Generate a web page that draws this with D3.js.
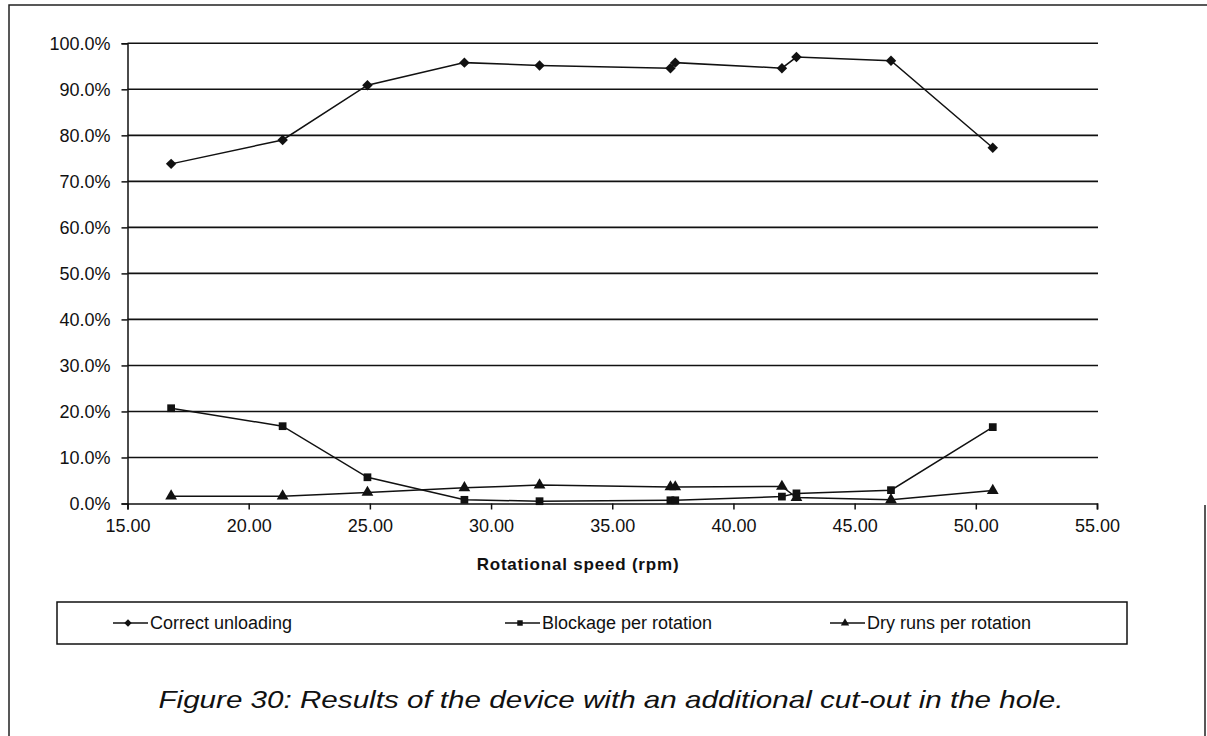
<!DOCTYPE html>
<html>
<head>
<meta charset="utf-8">
<script src="https://cdn.jsdelivr.net/npm/d3@7"></script>
<style>
body { margin: 0; background: #fff; }
svg { display: block; font-family: "Liberation Sans", Arial, sans-serif; }
</style>
</head>
<body>
<svg></svg>
<script>
// 1. data
var speed = [16.8, 21.4, 24.9, 28.9, 32.0, 37.4, 37.6, 42.0, 42.6, 46.5, 50.7];
var correctUnloading = [0.738, 0.790, 0.909, 0.958, 0.952, 0.946, 0.958, 0.946, 0.970, 0.962, 0.773];
var blockage = [0.207, 0.168, 0.057, 0.008, 0.005, 0.007, 0.007, 0.015, 0.022, 0.029, 0.166];
var dryRuns = [0.016, 0.016, 0.024, 0.034, 0.040, 0.036, 0.036, 0.037, 0.013, 0.008, 0.028];
var xTicks = [15, 20, 25, 30, 35, 40, 45, 50, 55];
var yTicks = [0, 0.1, 0.2, 0.3, 0.4, 0.5, 0.6, 0.7, 0.8, 0.9, 1.0];
var seriesNames = ["Correct unloading", "Blockage per rotation", "Dry runs per rotation"];

var svgWidth = 1207, svgHeight = 736;
var svg = d3.select('svg')
.attr('width', svgWidth)
.attr('height', svgHeight);

// 2. scales
var x = d3.scaleLinear().domain([15, 55]).range([127.5, 1097]);
var y = d3.scaleLinear().domain([0, 1]).range([503.5, 43.3]);

// page frame (scan border)
svg.append("path")
.attr("d", "M9,736 L9,5 L1207,5 M1205,505 L1205,736")
.attr("fill", "none")
.attr("stroke", "#222")
.attr("stroke-width", 1.5);

// 3. gridlines + y axis
var yAxis = d3.axisLeft(y)
.tickValues(yTicks)
.tickSize(6)
.tickPadding(11)
.tickFormat(d3.format(".1%"));

var gy = svg.append("g")
.attr("transform", "translate(" + x(15) + ",0)")
.call(yAxis);
gy.select(".domain").attr("stroke", "#111").attr("stroke-width", 1.5);
gy.selectAll(".tick line").attr("stroke", "#111").attr("stroke-width", 1.5);
gy.selectAll(".tick text")
.attr("font-size", "18px")
.attr("fill", "#111")
.attr("font-family", "Liberation Sans, Arial, sans-serif");

svg.append("g").selectAll("line")
.data(yTicks.slice(1))
.enter()
.append("line")
.attr("x1", x(15))
.attr("x2", x(55) + 1)
.attr("y1", function (d) { return y(d); })
.attr("y2", function (d) { return y(d); })
.attr("stroke", "#111")
.attr("stroke-width", 1.6);

// 4. x axis
var xAxis = d3.axisBottom(x)
.tickValues(xTicks)
.tickSize(6)
.tickPadding(10)
.tickFormat(d3.format(".2f"));

var gx = svg.append("g")
.attr("transform", "translate(0," + y(0) + ")")
.call(xAxis);
gx.select(".domain").attr("stroke", "#111").attr("stroke-width", 1.6);
gx.selectAll(".tick line").attr("stroke", "#111").attr("stroke-width", 1.5);
gx.selectAll(".tick text")
.attr("font-size", "18px")
.attr("fill", "#111")
.attr("font-family", "Liberation Sans, Arial, sans-serif");

svg.append("text")
.attr("x", 578)
.attr("y", 570)
.attr("text-anchor", "middle")
.attr("font-size", "17px")
.attr("font-weight", "bold")
.attr("letter-spacing", "0.8px")
.attr("fill", "#111")
.text("Rotational speed (rpm)");

// 5. series lines and markers
var diamond = {
    draw: function (ctx, size) {
        var r = Math.sqrt(size) / 2;
        ctx.moveTo(0, -r); ctx.lineTo(r, 0); ctx.lineTo(0, r); ctx.lineTo(-r, 0); ctx.closePath();
    }
};
var symbols = [diamond, d3.symbolSquare, d3.symbolTriangle];
var symSizes = [110, 60, 60];
var seriesData = [correctUnloading, blockage, dryRuns];

var line = d3.line()
.x(function (d) { return x(d.s); })
.y(function (d) { return y(d.v); });

seriesData.forEach(function (vals, k) {
    var pts = vals.map(function (v, i) { return {s: speed[i], v: v}; });
    svg.append("path")
    .datum(pts)
    .attr("d", line)
    .attr("fill", "none")
    .attr("stroke", "#111")
    .attr("stroke-width", 1.5);

    svg.append("g").selectAll("path")
    .data(pts)
    .enter()
    .append("path")
    .attr("transform", function (d) { return "translate(" + x(d.s) + "," + y(d.v) + ")"; })
    .attr("d", d3.symbol().type(symbols[k]).size(symSizes[k]))
    .attr("fill", "#111");
});

// 6. legend
var legend = svg.append("g");
legend.append("rect")
.attr("x", 57)
.attr("y", 602)
.attr("width", 1070)
.attr("height", 42)
.attr("fill", "none")
.attr("stroke", "#111")
.attr("stroke-width", 1.5);

var legendX = [113, 505, 830];
var items = legend.selectAll("g.item")
.data(seriesNames)
.enter()
.append("g")
.attr("class", "item")
.attr("transform", function (d, i) { return "translate(" + legendX[i] + ",623)"; });

items.append("line")
.attr("x1", 0)
.attr("x2", 35)
.attr("stroke", "#111")
.attr("stroke-width", 1.5);

items.append("path")
.attr("transform", "translate(15,0)")
.attr("d", function (d, i) { return d3.symbol().type(symbols[i]).size(symSizes[i] * 0.5)(); })
.attr("fill", "#111");

items.append("text")
.attr("x", 37)
.attr("dy", "0.35em")
.attr("font-size", "18px")
.attr("fill", "#111")
.text(function (d) { return d; });

// 7. caption
svg.append("text")
.attr("x", 611)
.attr("y", 708)
.attr("text-anchor", "middle")
.attr("font-size", "24px")
.attr("font-style", "italic")
.attr("textLength", 905)
.attr("lengthAdjust", "spacingAndGlyphs")
.attr("fill", "#111")
.text("Figure 30: Results of the device with an additional cut-out in the hole.");
</script>
</body>
</html>
